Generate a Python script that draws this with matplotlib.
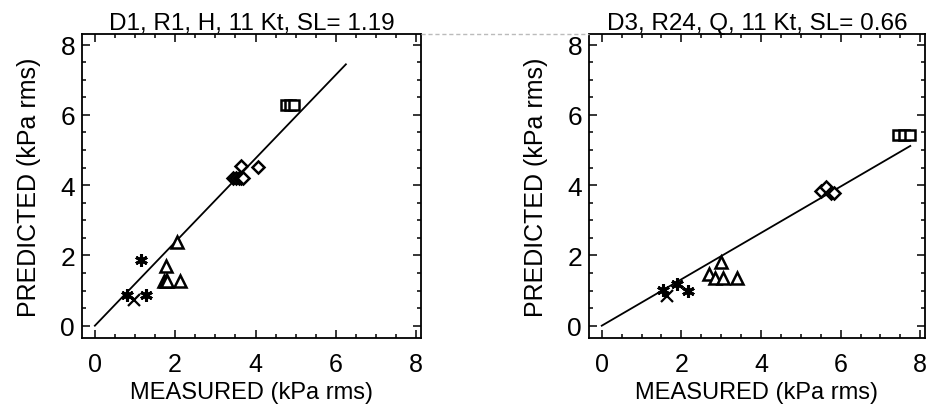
import matplotlib
matplotlib.use("Agg")
import matplotlib.pyplot as plt
from matplotlib.lines import Line2D
from matplotlib.ticker import MultipleLocator

plt.rcParams['font.family'] = ['Liberation Sans', 'DejaVu Sans']

# ---- data: left panel (D1, R1, H) ----
titles = ["D1, R1, H, 11 Kt, SL= 1.19", "D3, R24, Q, 11 Kt, SL= 0.66"]
slopes = [1.19, 0.66]
line_xmax = [6.25, 7.75]

L_sq_x = [4.75, 4.85, 4.95]
L_sq_y = [6.27, 6.27, 6.27]
L_di_x = [3.45, 3.52, 3.58, 3.65, 3.7, 3.65, 4.05]
L_di_y = [4.2, 4.2, 4.2, 4.2, 4.2, 4.55, 4.52]
L_tr_x = [2.05, 1.77, 1.72, 1.76, 1.80, 2.12]
L_tr_y = [2.37, 1.70, 1.28, 1.28, 1.28, 1.28]
L_as_x = [1.16, 1.28, 0.80]
L_as_y = [1.87, 0.87, 0.87]
L_cr_x = [0.98]
L_cr_y = [0.72]

# ---- data: right panel (D3, R24, Q) ----
R_sq_x = [7.45, 7.6, 7.75]
R_sq_y = [5.43, 5.43, 5.43]
R_di_x = [5.50, 5.63, 5.77, 5.84]
R_di_y = [3.82, 3.95, 3.78, 3.78]
R_tr_x = [2.99, 2.69, 2.84, 3.05, 3.41]
R_tr_y = [1.81, 1.47, 1.35, 1.35, 1.35]
R_as_x = [1.54, 1.88, 2.16]
R_as_y = [1.01, 1.20, 0.99]
R_cr_x = [1.65]
R_cr_y = [0.84]

ticks = [0, 2, 4, 6, 8]

fig = plt.figure(figsize=(9.28, 4.10), dpi=100)
ax1 = fig.add_axes([82/928, 71/410, 339/928, 304/410])
ax2 = fig.add_axes([589/928, 71/410, 336/928, 304/410])

panels = [
    (ax1, L_sq_x, L_sq_y, L_di_x, L_di_y, L_tr_x, L_tr_y, L_as_x, L_as_y, L_cr_x, L_cr_y),
    (ax2, R_sq_x, R_sq_y, R_di_x, R_di_y, R_tr_x, R_tr_y, R_as_x, R_as_y, R_cr_x, R_cr_y),
]

for i, (ax, sqx, sqy, dix, diy, trx, tr_y, asx, asy, crx, cry) in enumerate(panels):
    ax.plot([0, line_xmax[i]], [0, slopes[i] * line_xmax[i]], color='black', lw=1.3)
    kw = dict(linestyle='none', color='black', mfc='white', mew=1.8)
    ax.plot(sqx, sqy, marker='s', ms=7.5, **kw)
    ax.plot(dix, diy, marker='D', ms=6.5, **kw)
    ax.plot(trx, tr_y, marker='^', ms=8, **kw)
    ax.plot(asx, asy, marker=(6, 2, 0), ms=9, linestyle='none', color='black', mew=2.2)
    ax.plot(crx, cry, marker='x', ms=8, linestyle='none', color='black', mew=1.6)

    ax.set_xlim(-0.32, 8.12)
    ax.set_ylim(-0.35, 8.3)
    ax.set_xticks(ticks)
    ax.set_yticks(ticks)
    ax.xaxis.set_minor_locator(MultipleLocator(0.5))
    ax.yaxis.set_minor_locator(MultipleLocator(0.5))
    ax.tick_params(which='both', direction='in', top=True, right=True, width=1.1)
    ax.tick_params(which='major', length=6)
    ax.tick_params(which='minor', length=3)
    ax.tick_params(axis='y', which='major', labelsize=19, pad=5)
    ax.tick_params(axis='x', which='major', labelsize=18, pad=10)
    for s in ax.spines.values():
        s.set_linewidth(1.3)
    ax.set_title(titles[i], fontsize=17.5, pad=3)
    ax.set_xlabel("MEASURED (kPa rms)", fontsize=17, labelpad=4)
    ax.set_ylabel("PREDICTED (kPa rms)", fontsize=18, labelpad=14)

fig.lines.append(Line2D([421/928, 589/928], [1 - 35/410, 1 - 35/410], transform=fig.transFigure,
                        color='#bbbbbb', lw=1, linestyle=(0, (3, 2))))

fig.savefig("out.png", dpi=100)
